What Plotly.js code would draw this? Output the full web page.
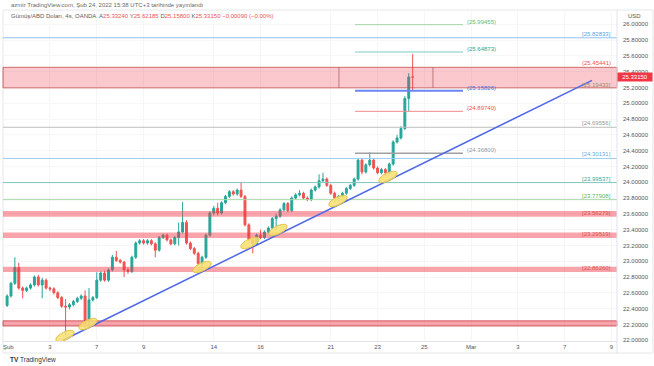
<!DOCTYPE html>
<html><head><meta charset="utf-8">
<script src="https://cdn.plot.ly/plotly-3.0.1.min.js"></script>
<style>html,body{margin:0;padding:0;background:#fff;overflow:hidden}#chart{width:654px;height:366px}</style>
</head><body><div id="chart"></div>
<script>
// ---- DATA (4h candles, Gümüş/ABD Doları, OANDA) ----
const firstBarTime = "2022-02-01T04:00";
const opens  = [22.44,22.56,22.72,22.92,22.66,22.63,22.66,22.70,22.80,22.70,22.76,22.66,22.65,22.60,22.54,22.43,22.42,22.45,22.49,22.53,22.56,22.25,22.51,22.54,22.76,22.85,22.76,22.89,23.05,23.01,22.99,22.89,22.87,23.05,23.23,23.26,23.23,23.26,23.22,23.14,23.30,23.33,23.27,23.22,23.30,23.37,23.49,23.23,23.16,23.10,22.97,23.05,23.33,23.61,23.67,23.61,23.74,23.82,23.88,23.85,23.90,23.82,23.46,23.27,23.22,23.33,23.30,23.37,23.42,23.54,23.57,23.65,23.73,23.64,23.80,23.84,23.86,23.80,23.78,23.90,23.94,24.02,24.04,23.96,23.86,23.80,23.82,23.86,23.92,23.96,24.04,24.28,24.13,24.22,24.28,24.18,24.12,24.16,24.12,24.23,24.51,24.56,24.68,25.06,25.3324];
const highs  = [22.58,22.74,23.05,22.98,22.68,22.68,22.72,22.82,22.83,22.79,22.78,22.68,22.67,22.62,22.56,22.52,22.47,22.51,22.55,22.58,22.63,22.66,22.56,22.86,22.87,22.88,22.91,23.08,23.13,23.03,23.00,22.92,23.07,23.25,23.28,23.28,23.28,23.28,23.24,23.32,23.35,23.35,23.29,23.32,23.49,23.75,23.52,23.25,23.18,23.12,23.07,23.35,23.63,23.70,23.74,23.76,23.84,23.90,23.90,23.92,24.00,23.84,23.48,23.30,23.35,23.40,23.39,23.44,23.56,23.60,23.67,23.75,23.75,23.82,23.86,23.90,23.88,23.82,23.92,23.96,24.10,24.12,24.06,23.98,23.88,23.84,23.88,23.94,23.98,24.06,24.30,24.30,24.24,24.38,24.30,24.20,24.18,24.18,24.25,24.53,24.60,24.71,25.09,25.38,25.62185];
const lows   = [22.42,22.54,22.70,22.64,22.53,22.61,22.64,22.68,22.68,22.53,22.64,22.62,22.58,22.52,22.41,22.06,22.39,22.43,22.47,22.51,22.16,22.18,22.49,22.52,22.74,22.74,22.74,22.87,22.99,22.97,22.80,22.84,22.85,23.03,23.21,23.21,23.21,23.20,23.05,23.12,23.28,23.25,23.20,23.20,23.20,23.35,23.21,23.14,23.08,22.94,22.90,23.03,23.31,23.58,23.58,23.59,23.72,23.80,23.83,23.83,23.80,23.44,23.25,23.10,23.20,23.28,23.28,23.35,23.40,23.40,23.55,23.63,23.62,23.62,23.78,23.82,23.78,23.76,23.76,23.88,23.92,24.00,23.94,23.84,23.75,23.76,23.80,23.84,23.90,23.94,24.02,24.10,24.11,24.20,24.16,24.10,24.10,24.08,24.10,24.21,24.49,24.54,24.66,24.90,25.158];
const closes = [22.56,22.72,22.92,22.66,22.63,22.66,22.70,22.80,22.70,22.76,22.66,22.65,22.60,22.54,22.43,22.42,22.45,22.49,22.53,22.56,22.25,22.51,22.54,22.76,22.85,22.76,22.89,23.05,23.01,22.99,22.89,22.87,23.05,23.23,23.26,23.23,23.26,23.22,23.14,23.30,23.33,23.27,23.22,23.30,23.37,23.49,23.23,23.16,23.10,22.97,23.05,23.33,23.61,23.67,23.61,23.74,23.82,23.88,23.85,23.90,23.82,23.46,23.27,23.22,23.33,23.30,23.37,23.42,23.54,23.57,23.65,23.73,23.64,23.80,23.84,23.86,23.80,23.78,23.90,23.94,24.02,24.04,23.96,23.86,23.80,23.82,23.86,23.92,23.96,24.04,24.28,24.13,24.22,24.28,24.18,24.12,24.16,24.12,24.23,24.51,24.56,24.68,25.06,25.3324,25.3315];
const tickDates  = ["2022-02-01","2022-02-03","2022-02-07","2022-02-09","2022-02-14","2022-02-16","2022-02-21","2022-02-23","2022-02-25","2022-03-01","2022-03-03","2022-03-07","2022-03-09"];
const tickLabels = ["Şub","3","7","9","14","16","21","23","25","Mar","3","7","9"];
// drawn levels
const fullLevels  = [25.82833, 24.69556, 24.30131, 23.99537, 23.77908];
const shortLevels = [25.99455, 25.64873, 25.15826, 24.89740, 24.36800];
const zoneLow  = [25.19433, 23.56279, 23.29519, 22.86260, 22.18];
const zoneHigh = [25.45441, 23.635, 23.365, 22.93, 22.245];

// ---- helpers ----
const W=654,H=366,M={l:3,r:37,t:10,b:25};
const plotW=W-M.l-M.r, plotH=H-M.t-M.b;
const xRange=[-1.05,156.4], yRange=[21.99,26.18];
const pxB=plotW/(xRange[1]-xRange[0]), pxV=plotH/(yRange[1]-yRange[0]);
const BARS_PER_DAY=6;
function weekdaysBetween(a,b){ // count weekdays in [a,b)
  let d=new Date(a+"T00:00:00Z"), e=new Date(b+"T00:00:00Z"), n=0;
  while(d<e){const w=d.getUTCDay(); if(w!==0&&w!==6)n++; d.setUTCDate(d.getUTCDate()+1);}
  return n;
}
const firstDay=firstBarTime.slice(0,10), firstHour=+firstBarTime.slice(11,13);
function barOfDate(ds){return weekdaysBetween(firstDay,ds)*BARS_PER_DAY - firstHour/4;}
const barIdx=closes.map((_,i)=>i);
const tickBars=tickDates.map(barOfDate);
const px2bar=p=>xRange[0]+(p-M.l)/pxB;
const pxX=p=>(p-M.l)/plotW, pxY=p=>(H-M.b-p)/plotH;

const FONT="Liberation Sans";
const shapes=[], ann=[];
// zones
zoneLow.forEach((lo,i)=>{
  const top=i===0;
  shapes.push({type:'rect',xref:'paper',x0:0,x1:1,yref:'y',y0:lo,y1:zoneHigh[i],layer:'above',
    fillcolor: top?'rgba(242,54,69,0.27)':'rgba(242,54,69,0.45)',
    line:{color: top?'rgba(190,70,70,0.75)':(i===4?'rgba(200,60,70,0.8)':'rgba(0,0,0,0)'),width:1}});
});
// vertical marks inside top zone
[85.1,109.2].forEach(b=>shapes.push({type:'line',x0:b,x1:b,y0:zoneLow[0],y1:zoneHigh[0],layer:'above',line:{color:'rgba(150,70,70,0.6)',width:1}}));
// full-width levels
const fullCol=['#90c2f2','#bdbdbd','#9ccbf0','#80c6bd','#a8d8a8'];
const fullTxt=['#5aa3e8','#9a9a9a','#64aee8','#46a89c','#5cb85f'];
fullLevels.forEach((v,i)=>{
  shapes.push({type:'line',xref:'paper',x0:0,x1:1,y0:v,y1:v,layer:'above',line:{color:fullCol[i],width:1}});
  ann.push({xref:'paper',x:pxX(613),yref:'y',y:v,yshift:4,xanchor:'right',yanchor:'middle',showarrow:false,
    text:'['+v.toFixed(5)+']',font:{family:FONT,size:6,color:fullTxt[i]}});
});
// zone labels
[[zoneHigh[0],'('+zoneHigh[0].toFixed(5)+')','#ef5350',4],[zoneLow[0],'['+zoneLow[0].toFixed(5)+']','#a08c6c',3],
 [zoneLow[1],'['+zoneLow[1].toFixed(5)+']','#d9534f',4],[zoneLow[2],'['+zoneLow[2].toFixed(5)+']','#d9534f',4],
 [zoneLow[3],'['+zoneLow[3].toFixed(5)+']','#d9534f',4]].forEach(z=>{
  ann.push({xref:'paper',x:pxX(613),yref:'y',y:z[0],yshift:z[3],xanchor:'right',yanchor:'middle',showarrow:false,
    text:z[1],font:{family:FONT,size:6,color:z[2]}});
});
// short levels
const sCol=['#a5d6a7','#80cbc4','#6b85f2','#f08a8a','#a0a0a0'];
const sTxt=['#66bb6a','#26a69a','#4e6fe0','#ef5350','#9a9a9a'];
const sW=[1,1,2,1,1.5];
const sStart=px2bar(355), sEnd=px2bar(463);
shortLevels.forEach((v,i)=>{
  shapes.push({type:'line',x0:sStart,x1:sEnd,y0:v,y1:v,layer:'above',line:{color:sCol[i],width:sW[i]}});
  ann.push({x:px2bar(465),y:v,yshift:3,xanchor:'left',yanchor:'middle',showarrow:false,
    text:'('+v.toFixed(5)+')',font:{family:FONT,size:6,color:sTxt[i]}});
});
// trend line
const tl=[[px2bar(63),22.0],[px2bar(592),25.29]];
shapes.push({type:'line',x0:tl[0][0],y0:tl[0][1],x1:tl[1][0],y1:tl[1][1],layer:'above',line:{color:'#4f68e6',width:1.5}});
// ellipses at touches
const touches=[[65,336],[88,324],[202,267],[250,243],[278,230],[338,201],[388,177]];
const ang=Math.atan(260/529);
function ellipse(cx,cy,a,b){
  const pts=[];
  for(let i=0;i<=36;i++){const t=i/36*2*Math.PI;
    const dx=a*Math.cos(t)*Math.cos(ang)-b*Math.sin(t)*Math.sin(ang);
    const dy=a*Math.cos(t)*Math.sin(ang)+b*Math.sin(t)*Math.cos(ang);
    pts.push([px2bar(cx)+dx/pxB, yRange[0]+(H-M.b-cy)/pxV+dy/pxV]);}
  return 'M'+pts.map(p=>p[0].toFixed(3)+','+p[1].toFixed(4)).join('L')+'Z';
}
touches.forEach(t=>shapes.push({type:'path',path:ellipse(t[0],t[1],10,4),layer:'above',
  fillcolor:'rgba(247,223,110,0.85)',line:{color:'#e3c24a',width:1}}));
// frame
shapes.push({type:'rect',xref:'paper',yref:'paper',x0:0,x1:pxX(653),y0:pxY(353),y1:1,layer:'below',line:{color:'#e6e6e6',width:1}});
shapes.push({type:'line',xref:'paper',yref:'paper',x0:1,x1:1,y0:pxY(353),y1:1,line:{color:'#e0e3eb',width:1}});

// first month label at the left edge, kept fully inside the picture
ann.push({xref:'paper',x:pxX(1),yref:'paper',y:pxY(347),xanchor:'left',yanchor:'middle',showarrow:false,
  text:tickLabels[0],font:{family:FONT,size:6,color:'#555'}});

// header
const n=closes.length-1, f=v=>v.toFixed(5);
const chg=closes[n]-closes[n-1];
const red='#ef5350', g='#5d5d5d';
ann.push({xref:'paper',yref:'paper',x:pxX(9),y:pxY(5),xanchor:'left',yanchor:'middle',showarrow:false,
  text:'azmir TradingView.com, Şub 24, 2022 15:38 UTC+3 tarihinde yayınlandı',font:{family:FONT,size:6,color:'#6a6a6a'}});
ann.push({xref:'paper',yref:'paper',x:pxX(9),y:pxY(16),xanchor:'left',yanchor:'middle',showarrow:false,
  text:`<span style="color:${g}">Gümüş/ABD Doları, 4s, OANDA</span>  <span style="color:${g}">A</span><span style="color:${red}">${f(opens[n])}</span> <span style="color:${g}">Y</span><span style="color:${red}">${f(highs[n])}</span> <span style="color:${g}">D</span><span style="color:${red}">${f(lows[n])}</span> <span style="color:${g}">K</span><span style="color:${red}">${f(closes[n])}</span> <span style="color:${red}">${chg<0?'−':'+'}${Math.abs(chg).toFixed(5)} (${chg<0?'−':'+'}${Math.abs(chg/closes[n-1]*100).toFixed(2)}%)</span>`,
  font:{family:FONT,size:6,color:g}});
ann.push({xref:'paper',yref:'paper',x:pxX(634),y:pxY(16),xanchor:'center',yanchor:'middle',showarrow:false,
  text:'USD',font:{family:FONT,size:6,color:'#555'}});
ann.push({xref:'paper',yref:'y',x:1,y:closes[n],xanchor:'left',yanchor:'middle',showarrow:false,xshift:0,
  text:f(closes[n]),bgcolor:'#f23645',borderpad:1,font:{family:FONT,size:6,color:'#fff'},width:32});
ann.push({xref:'paper',yref:'paper',x:pxX(8),y:pxY(360),xanchor:'left',yanchor:'middle',showarrow:false,
  text:'<b>TV</b> TradingView',font:{family:FONT,size:6.5,color:'#333'}});

const trace={type:'candlestick',x:barIdx,open:opens,high:highs,low:lows,close:closes,
  increasing:{line:{color:'#26a69a',width:1},fillcolor:'#26a69a'},
  decreasing:{line:{color:'#ef5350',width:1},fillcolor:'#ef5350'},
  whiskerwidth:0,hoverinfo:'skip',showlegend:false};

const layout={width:W,height:H,margin:M,paper_bgcolor:'#fff',plot_bgcolor:'#fff',showlegend:false,
  xaxis:{range:xRange,tickmode:'array',tickvals:tickBars.slice(1),ticktext:tickLabels.slice(1),showgrid:true,gridcolor:'#f5f6f8',
    zeroline:false,showline:true,linecolor:'#e0e3eb',ticks:'',tickfont:{family:FONT,size:6,color:'#555'},
    rangeslider:{visible:false},fixedrange:true},
  yaxis:{range:yRange,side:'right',dtick:0.2,tick0:0,tickformat:'.5f',showgrid:true,gridcolor:'#f5f6f8',
    zeroline:false,showline:false,ticks:'',ticklabelstandoff:5,tickfont:{family:FONT,size:6,color:'#555'},fixedrange:true},
  shapes:shapes,annotations:ann};
Plotly.newPlot('chart',[trace],layout,{staticPlot:true,displayModeBar:false});
</script></body></html>
